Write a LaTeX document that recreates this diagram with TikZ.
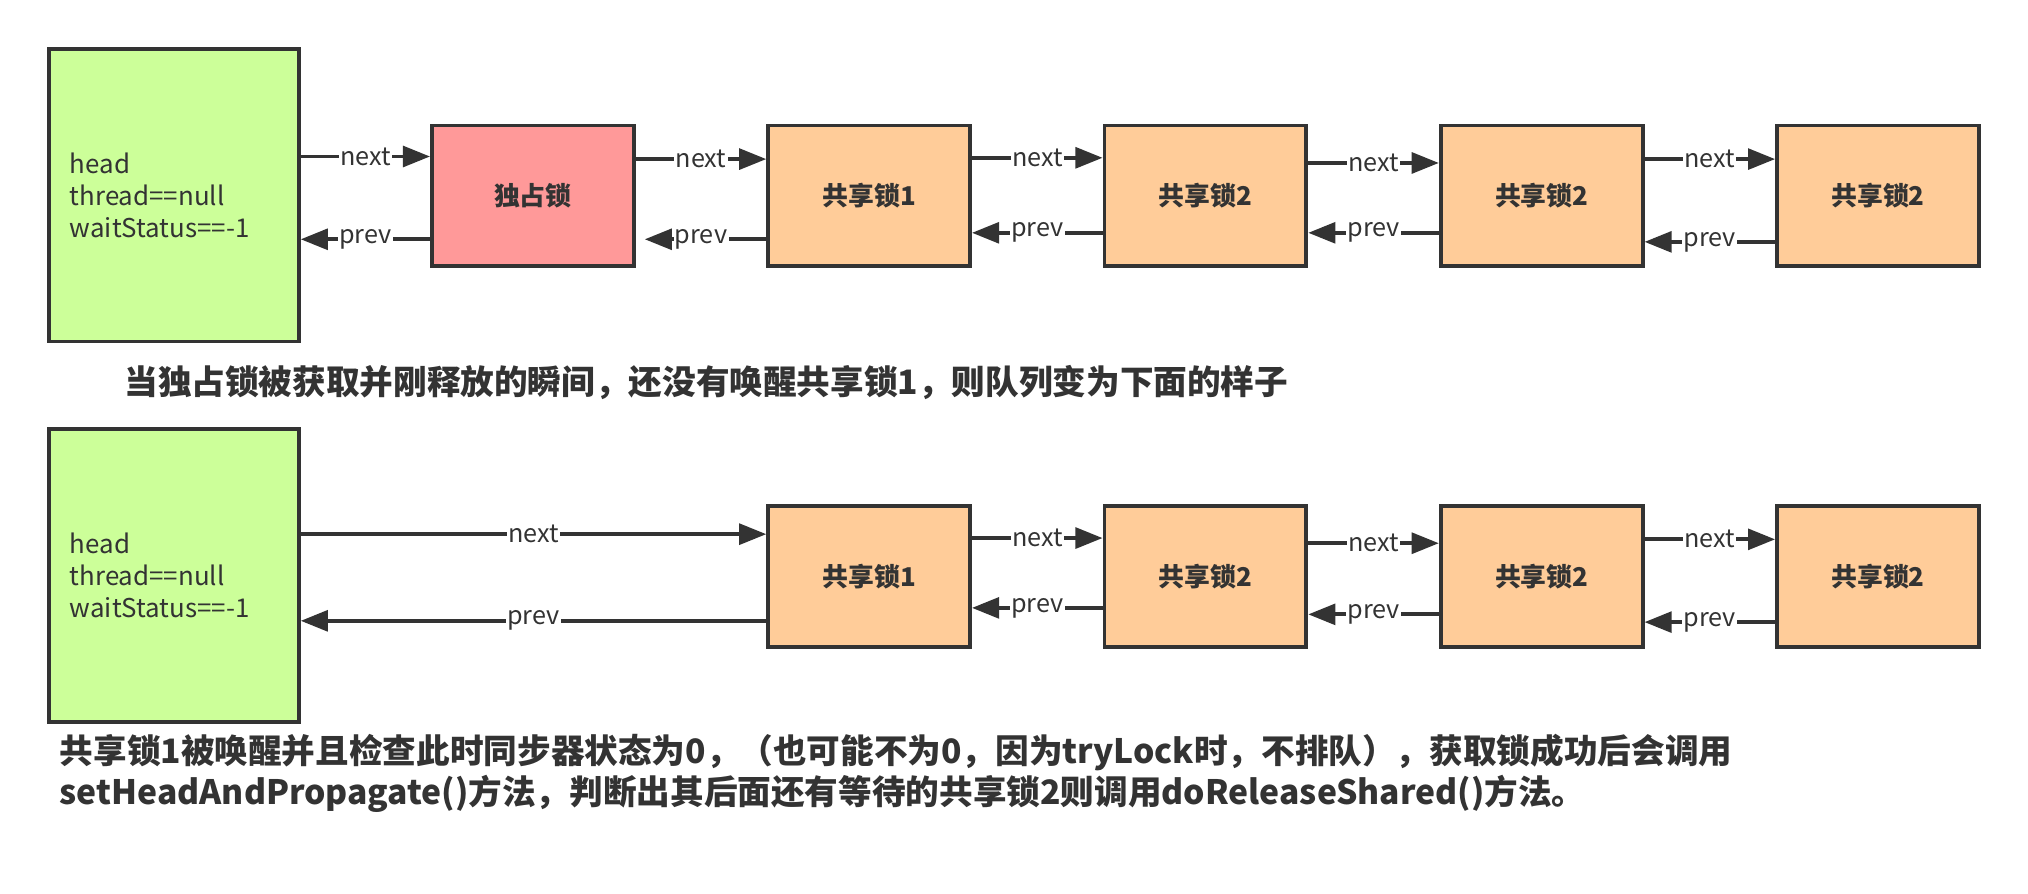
\documentclass[tikz,border=0pt]{standalone}
\usepackage{fontspec}
\setmainfont{Noto Sans CJK SC}
\usetikzlibrary{arrows.meta}
\definecolor{aqsInk}{HTML}{333333}
\definecolor{aqsGreen}{HTML}{CCFF99}
\definecolor{aqsPink}{HTML}{FF9999}
\definecolor{aqsPeach}{HTML}{FFCC99}
\tikzset{
  aqs head/.style={draw=aqsInk, fill=aqsGreen, line width=3pt, minimum width=193pt, minimum height=226pt, text width=161pt, inner xsep=16pt, align=left, font=\fontsize{20}{24.5}\selectfont, text=aqsInk},
  aqs node/.style={draw=aqsInk, line width=3pt, minimum width=156pt, minimum height=109pt, font=\fontsize{20}{24}\selectfont\bfseries, text=aqsInk},
  aqs link/.style={draw=aqsInk, line width=3pt, -{Triangle[length=21pt,width=16pt]}},
  aqs tag/.style={font=\fontsize{19.5}{22}\selectfont, text=aqsInk, fill=white, inner sep=1pt},
  aqs note/.style={font=\fontsize{26}{32}\selectfont\bfseries, text=aqsInk, anchor=west, align=left, inner sep=0pt},
}

\begin{document}
\begin{tikzpicture}[x=1pt,y=-1pt]
  \useasboundingbox[fill=white] (0,0) rectangle (1568,691);
  % before: head, exclusive node, shared nodes
  \node[aqs head] (h1) at (134.5,151) {head\\thread==null\\waitStatus==-1};
  \node[aqs node, fill=aqsPink] (x1) at (412,151.5) {独占锁};
  \node[aqs node, fill=aqsPeach] (s1) at (672,151.5) {共享锁1};
  \node[aqs node, fill=aqsPeach] (s2) at (932,151.5) {共享锁2};
  \node[aqs node, fill=aqsPeach] (s3) at (1192,151.5) {共享锁2};
  \node[aqs node, fill=aqsPeach] (s4) at (1452,151.5) {共享锁2};
  \draw[aqs link] (h1.east |- 0,121) -- node[aqs tag] {next} (x1.west |- 0,121);
  \draw[aqs link] (x1.west |- 0,185) -- node[aqs tag] {prev} (h1.east |- 0,185);
  \draw[aqs link] (x1.east |- 0,123) -- node[aqs tag] {next} (s1.west |- 0,123);
  \draw[aqs link, shorten >=7pt] (s1.west |- 0,185) -- node[aqs tag] {prev} (x1.east |- 0,185);
  \draw[aqs link] (s1.east |- 0,122) -- node[aqs tag] {next} (s2.west |- 0,122);
  \draw[aqs link] (s2.west |- 0,180) -- node[aqs tag] {prev} (s1.east |- 0,180);
  \draw[aqs link] (s2.east |- 0,126) -- node[aqs tag] {next} (s3.west |- 0,126);
  \draw[aqs link] (s3.west |- 0,180) -- node[aqs tag] {prev} (s2.east |- 0,180);
  \draw[aqs link] (s3.east |- 0,123) -- node[aqs tag] {next} (s4.west |- 0,123);
  \draw[aqs link] (s4.west |- 0,187) -- node[aqs tag] {prev} (s3.east |- 0,187);
  \node[aqs note] (c1) at (96,296) {当独占锁被获取并刚释放的瞬间，还没有唤醒共享锁1，则队列变为下面的样子};
  % after: head points straight at shared node 1
  \node[aqs head] (h2) at (134.5,445) {head\\thread==null\\waitStatus==-1};
  \node[aqs node, fill=aqsPeach] (s5) at (672,446) {共享锁1};
  \node[aqs node, fill=aqsPeach] (s6) at (932,446) {共享锁2};
  \node[aqs node, fill=aqsPeach] (s7) at (1192,446) {共享锁2};
  \node[aqs node, fill=aqsPeach] (s8) at (1452,446) {共享锁2};
  \draw[aqs link] (h2.east |- 0,413) -- node[aqs tag] {next} (s5.west |- 0,413);
  \draw[aqs link] (s5.west |- 0,480) -- node[aqs tag] {prev} (h2.east |- 0,480);
  \draw[aqs link] (s5.east |- 0,416) -- node[aqs tag] {next} (s6.west |- 0,416);
  \draw[aqs link] (s6.west |- 0,470) -- node[aqs tag] {prev} (s5.east |- 0,470);
  \draw[aqs link] (s6.east |- 0,420) -- node[aqs tag] {next} (s7.west |- 0,420);
  \draw[aqs link] (s7.west |- 0,475) -- node[aqs tag] {prev} (s6.east |- 0,475);
  \draw[aqs link] (s7.east |- 0,417) -- node[aqs tag] {next} (s8.west |- 0,417);
  \draw[aqs link] (s8.west |- 0,481) -- node[aqs tag] {prev} (s7.east |- 0,481);
  \node[aqs note] (c2) at (46,598) {共享锁1被唤醒并且检查此时同步器状态为0，（也可能不为0，因为tryLock时，不排队），获取锁成功后会调用\\setHeadAndPropagate()方法，判断出其后面还有等待的共享锁2则调用doReleaseShared()方法。};
\end{tikzpicture}
\end{document}
